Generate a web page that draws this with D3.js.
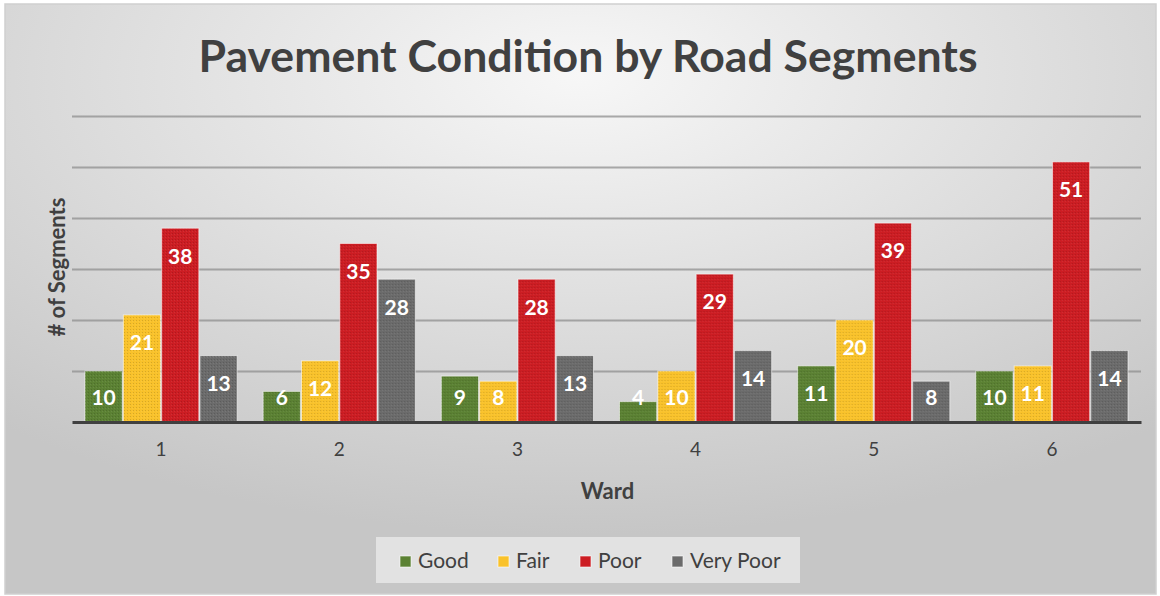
<!DOCTYPE html>
<html>
<head>
<meta charset="utf-8">
<script src="https://cdn.jsdelivr.net/npm/d3@7"></script>
<style>
  body { margin: 0; background: #fff; }
  svg { display: block; font-family: Lato, "Open Sans", sans-serif; }
</style>
</head>
<body>
<div id="chart-area"></div>
<script>
// data
const wards = ["1", "2", "3", "4", "5", "6"]
const conditions = ["Good", "Fair", "Poor", "Very Poor"]
const good = [10, 6, 9, 4, 11, 10]
const fair = [21, 12, 8, 10, 20, 11]
const poor = [38, 35, 28, 29, 39, 51]
const veryPoor = [13, 28, 13, 14, 8, 14]
const colors = ["#5b8133", "#f9c22b", "#cc1d23", "#6b6b6b"]

const seriesValues = [good, fair, poor, veryPoor]
const table = wards.map((w, i) => ({
  ward: w,
  values: conditions.map((c, j) => ({ key: c, value: seriesValues[j][i] }))
}))

const W = 1160, H = 596
const MARGIN = { LEFT: 72, RIGHT: 19, TOP: 116, BOTTOM: 174 }
const WIDTH = W - MARGIN.LEFT - MARGIN.RIGHT
const HEIGHT = H - MARGIN.TOP - MARGIN.BOTTOM

const svg = d3.select("#chart-area").append("svg")
  .attr("width", W)
  .attr("height", H)

const defs = svg.append("defs")
const grad = defs.append("radialGradient")
  .attr("id", "bg")
  .attr("cx", "50%").attr("cy", "12%").attr("r", "78%")
grad.append("stop").attr("offset", "0%").attr("stop-color", "#f7f7f7")
grad.append("stop").attr("offset", "100%").attr("stop-color", "#c6c6c6")

// fine texture on the bars
const pat = defs.append("pattern")
  .attr("id", "dots")
  .attr("width", 3).attr("height", 3)
  .attr("patternUnits", "userSpaceOnUse")
pat.append("rect").attr("width", 1).attr("height", 1)
  .attr("fill", "#000").attr("opacity", 0.14)
pat.append("rect").attr("x", 2).attr("y", 1).attr("width", 1).attr("height", 1)
  .attr("fill", "#fff").attr("opacity", 0.08)

// chart frame
svg.append("rect")
  .attr("x", 5).attr("y", 4)
  .attr("width", W - 9).attr("height", H - 6)
  .attr("fill", "url(#bg)")
  .attr("stroke", "#cfcfcf")
  .attr("stroke-width", 1.5)

const g = svg.append("g")
  .attr("transform", `translate(${MARGIN.LEFT}, ${MARGIN.TOP})`)

// scales
const x0 = d3.scaleBand()
  .domain(wards)
  .range([0, WIDTH])
  .paddingInner(0.146)
  .paddingOuter(0.073)
const x1 = d3.scaleBand()
  .domain(conditions)
  .range([0, x0.bandwidth()])
  .paddingInner(0.03)
const y = d3.scaleLinear()
  .domain([0, 60])
  .range([HEIGHT, 0])
const color = d3.scaleOrdinal()
  .domain(conditions)
  .range(colors)

// gridlines
const yGrid = d3.axisLeft(y)
  .tickValues([10, 20, 30, 40, 50, 60])
  .tickSize(-WIDTH)
  .tickFormat("")
g.append("g")
  .attr("class", "grid")
  .call(yGrid)
  .call(s => s.select(".domain").remove())
  .call(s => s.selectAll("line").attr("stroke", "#8f8f8f").attr("stroke-width", 2).attr("opacity", 0.75))

// bars
const groups = g.selectAll(".ward")
  .data(table)
  .enter().append("g")
  .attr("class", "ward")
  .attr("transform", d => `translate(${x0(d.ward)}, 0)`)

groups.selectAll("rect.bar")
  .data(d => d.values)
  .enter().append("rect")
  .attr("class", "bar")
  .attr("x", d => x1(d.key))
  .attr("y", d => y(d.value))
  .attr("width", x1.bandwidth())
  .attr("height", d => HEIGHT - y(d.value))
  .attr("fill", d => color(d.key))
  .attr("stroke", "rgba(255,255,255,0.55)")
  .attr("stroke-width", 1)

groups.selectAll("rect.tex")
  .data(d => d.values)
  .enter().append("rect")
  .attr("class", "tex")
  .attr("x", d => x1(d.key))
  .attr("y", d => y(d.value))
  .attr("width", x1.bandwidth())
  .attr("height", d => HEIGHT - y(d.value))
  .attr("fill", "url(#dots)")

// labels sit inside the bar end, but never lower than a fixed line above the base
groups.selectAll("text")
  .data(d => d.values)
  .enter().append("text")
  .attr("x", d => x1(d.key) + x1.bandwidth() / 2)
  .attr("y", d => Math.min(y(d.value) + 28, HEIGHT - 24))
  .attr("dy", "0.35em")
  .attr("text-anchor", "middle")
  .attr("fill", "#fff")
  .attr("font-size", "21px")
  .attr("font-weight", "bold")
  .text(d => d.value)

// x axis
const xAxisCall = d3.axisBottom(x0).tickSize(0).tickPadding(21)
g.append("g")
  .attr("class", "x axis")
  .attr("transform", `translate(0, ${HEIGHT})`)
  .call(xAxisCall)
  .call(s => s.select(".domain").attr("stroke", "#404040").attr("stroke-width", 3))
  .call(s => s.selectAll("text")
    .attr("font-family", "Lato, 'Open Sans', sans-serif")
    .attr("font-size", "19px")
    .attr("fill", "#404040"))

// axis labels
g.append("text")
  .attr("x", WIDTH / 2 + 1)
  .attr("y", HEIGHT + 69)
  .attr("dy", "0.35em")
  .attr("text-anchor", "middle")
  .attr("font-size", "22px")
  .attr("font-weight", "bold")
  .attr("fill", "#404040")
  .text("Ward")

g.append("text")
  .attr("transform", "rotate(-90)")
  .attr("x", -(y(0) + y(60)) / 2 + 2)
  .attr("y", -15)
  .attr("dy", "0.35em")
  .attr("text-anchor", "middle")
  .attr("font-size", "22px")
  .attr("font-weight", "bold")
  .attr("fill", "#404040")
  .text("# of Segments")

// title
const title = svg.append("text")
  .attr("x", 588)
  .attr("y", 72)
  .attr("text-anchor", "middle")
  .attr("font-size", "44px")
  .attr("font-weight", "bold")
  .attr("fill", "#404040")
  .text("Pavement Condition by Road Segments")
const tw = title.node().getComputedTextLength()
title.attr("font-size", (44 * 779 / tw) + "px")

// legend
const legend = svg.append("g")
  .attr("transform", "translate(376, 537)")
legend.append("rect")
  .attr("width", 424)
  .attr("height", 46)
  .attr("fill", "#e6e6e6")
  .attr("opacity", 0.85)

const legendX = [24, 122, 204, 296]
conditions.forEach((c, i) => {
  const row = legend.append("g")
    .attr("transform", `translate(${legendX[i]}, 0)`)
  row.append("rect")
    .attr("y", 19)
    .attr("width", 11)
    .attr("height", 11)
    .attr("fill", color(c))
    .attr("stroke", "rgba(255,255,255,0.6)")
  row.append("text")
    .attr("x", 18)
    .attr("y", 24)
    .attr("dy", "0.35em")
    .attr("font-size", "21px")
    .attr("fill", "#404040")
    .text(c)
})
</script>
</body>
</html>
